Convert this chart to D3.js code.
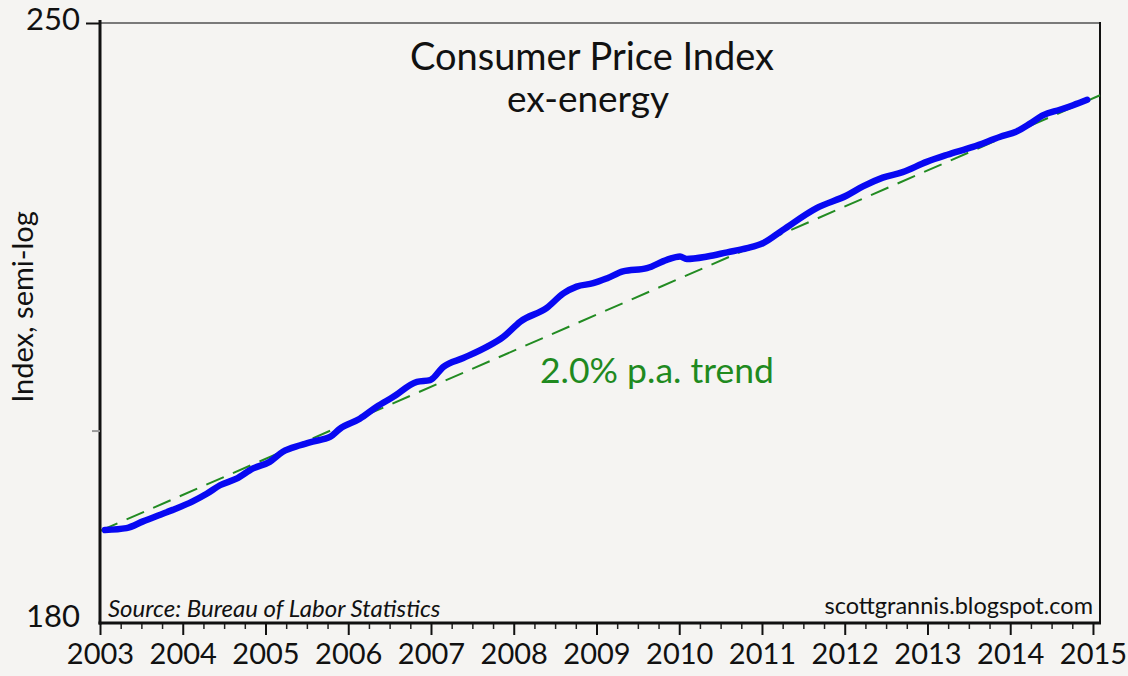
<!DOCTYPE html>
<html>
<head>
<meta charset="utf-8">
<script src="https://cdn.jsdelivr.net/npm/d3@7"></script>
<style>
  html, body { margin: 0; padding: 0; background: #f5f4f2; }
  svg { display: block; }
  text { font-family: "Lato", "Open Sans", sans-serif; }
</style>
</head>
<body>
<svg id="chart" width="1128" height="676"></svg>
<script>
// ---- data (decimal year, index value) ----
const dates = [2003.06, 2003.32, 2003.52, 2003.73, 2003.88, 2004.12, 2004.29, 2004.45, 2004.65, 2004.85,
  2005.05, 2005.21, 2005.42, 2005.57, 2005.78, 2005.90, 2006.14, 2006.34, 2006.54, 2006.83,
  2006.99, 2007.15, 2007.39, 2007.68, 2007.87, 2008.08, 2008.40, 2008.60, 2008.76, 2008.96,
  2009.13, 2009.32, 2009.61, 2009.85, 2010.01, 2010.09, 2010.34, 2010.58, 2010.82, 2011.01,
  2011.25, 2011.66, 2012.03, 2012.22, 2012.46, 2012.70, 2012.99, 2013.24, 2013.55, 2013.88,
  2014.08, 2014.24, 2014.40, 2014.60, 2014.76, 2014.93];
const cpiExEnergy = [189.4, 189.6, 190.3, 191.0, 191.5, 192.4, 193.2, 194.1, 194.8, 195.9,
  196.6, 197.7, 198.4, 198.8, 199.3, 200.2, 201.3, 202.6, 203.7, 205.4,
  205.6, 207.1, 208.1, 209.4, 210.5, 212.3, 213.9, 215.6, 216.4, 216.8,
  217.4, 218.2, 218.6, 219.6, 220.0, 219.7, 220.0, 220.5, 221.0, 221.6,
  223.2, 225.9, 227.5, 228.6, 229.7, 230.4, 231.7, 232.6, 233.6, 234.9,
  235.6, 236.6, 237.7, 238.4, 239.0, 239.7];
// 2.0% p.a. trend line end points
const trendDates = [2003.0, 2015.085];
const trendValues = [189.3, 240.3];
const yearTicks = [2003, 2004, 2005, 2006, 2007, 2008, 2009, 2010, 2011, 2012, 2013, 2014, 2015];
const yLabelTicks = [180, 250];
const yMinorTicks = [200];

const svg = d3.select("#chart");
const L = 100, R = 1100, T = 23, B = 623;
const x = d3.scaleLinear().domain([2003, 2015.085]).range([L, R]);
const y = d3.scaleLog().domain([180, 250]).range([B, T]);

// frame: top gray, right black
svg.append("line").attr("x1", L).attr("x2", R).attr("y1", T).attr("y2", T)
  .attr("stroke", "#7a7a7a").attr("stroke-width", 2);
svg.append("line").attr("x1", R).attr("x2", R).attr("y1", T - 1).attr("y2", B)
  .attr("stroke", "#111").attr("stroke-width", 2);

// trend line
const trend = trendDates.map((d, i) => ({ t: d, v: trendValues[i] }));
svg.append("path").datum(trend)
  .attr("d", d3.line().x(d => x(d.t)).y(d => y(d.v)))
  .attr("fill", "none").attr("stroke", "#228b22").attr("stroke-width", 2)
  .attr("stroke-dasharray", "19,10");

// data line
const series = dates.map((d, i) => ({ t: d, v: cpiExEnergy[i] }));
svg.append("path").datum(series)
  .attr("d", d3.line().x(d => x(d.t)).y(d => y(d.v)).curve(d3.curveMonotoneX))
  .attr("fill", "none").attr("stroke", "#0808f2").attr("stroke-width", 6.5)
  .attr("stroke-linejoin", "round").attr("stroke-linecap", "round");

// bottom axis: minor quarterly ticks
const quarters = [];
for (let yr = 2003; yr < 2015; yr++) { [0.25, 0.5, 0.75].forEach(q => quarters.push(yr + q)); }
const gMinor = svg.append("g").attr("transform", `translate(0,${B})`)
  .call(d3.axisBottom(x).tickValues(quarters).tickSize(6).tickFormat(""));
gMinor.select(".domain").remove();
gMinor.selectAll("line").attr("stroke", "#222").attr("stroke-width", 1.5);

const gX = svg.append("g").attr("transform", `translate(0,${B})`)
  .call(d3.axisBottom(x).tickValues(yearTicks).tickSize(12).tickPadding(6).tickFormat(d3.format("d")));
gX.select(".domain").attr("stroke", "#111").attr("stroke-width", 3).attr("d", `M${L - 1.5},0H${R + 1}`);
gX.selectAll(".tick line").attr("stroke", "#111").attr("stroke-width", 2);
gX.selectAll(".tick text").attr("font-size", 29).attr("fill", "#111")
  .attr("font-family", "Lato, sans-serif").attr("dy", "0.78em");

// left axis
const gY = svg.append("g").attr("transform", `translate(${L},0)`)
  .call(d3.axisLeft(y).tickValues(yLabelTicks).tickSize(14).tickPadding(6).tickFormat(d3.format("d")));
gY.select(".domain").attr("stroke", "#111").attr("stroke-width", 3).attr("d", `M0,${T - 3}V${B + 1.5}`);
gY.selectAll(".tick line").attr("stroke", "#111").attr("stroke-width", 2);
gY.selectAll(".tick").filter(d => d === 180).select("line").remove();
gY.selectAll(".tick text").attr("font-size", 31).attr("fill", "#111")
  .attr("font-family", "Lato, sans-serif");
gY.selectAll(".tick").filter(d => d === 180).select("text").attr("dy", "0.12em");
gY.selectAll(".tick").filter(d => d === 250).select("text").attr("dy", "0.22em");

const gYm = svg.append("g").attr("transform", `translate(${L},0)`)
  .call(d3.axisLeft(y).tickValues(yMinorTicks).tickSize(8).tickFormat(""));
gYm.select(".domain").remove();
gYm.selectAll("line").attr("stroke", "#999").attr("stroke-width", 2);

// titles
svg.append("text").attr("x", 592).attr("y", 70).attr("text-anchor", "middle")
  .attr("font-size", 38).attr("fill", "#111").text("Consumer Price Index");
svg.append("text").attr("x", 588).attr("y", 112).attr("text-anchor", "middle")
  .attr("font-size", 37).attr("fill", "#111").text("ex-energy");

// y label
svg.append("text").attr("transform", "translate(33,307) rotate(-90)").attr("text-anchor", "middle")
  .attr("font-size", 29).attr("fill", "#111").text("Index, semi-log");

// trend label
svg.append("text").attr("x", 540).attr("y", 383)
  .attr("font-size", 35.5).attr("fill", "#1f8a1f").text("2.0% p.a. trend");

// source & credit
svg.append("text").attr("x", 108).attr("y", 617)
  .attr("font-size", 24).attr("font-style", "italic").attr("fill", "#111")
  .text("Source: Bureau of Labor Statistics");
svg.append("text").attr("x", 1093).attr("y", 614).attr("text-anchor", "end")
  .attr("font-size", 23.5).attr("fill", "#111").text("scottgrannis.blogspot.com");
</script>
</body>
</html>
